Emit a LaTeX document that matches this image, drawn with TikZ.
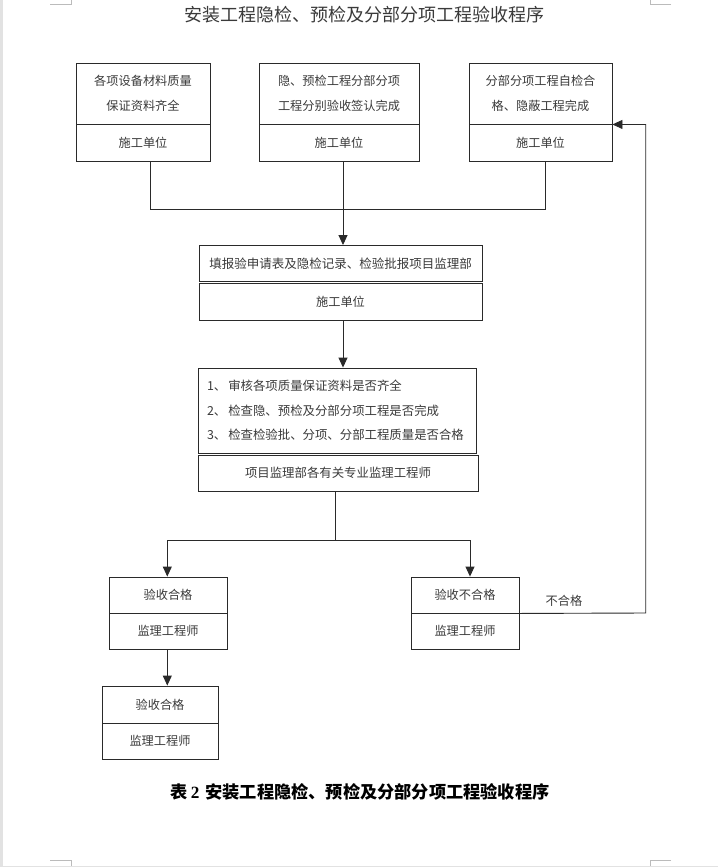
\documentclass[tikz,border=0pt]{standalone}
\usepackage{fontspec}
\setmainfont{Noto Sans CJK SC}
\newfontfamily\numfont{Liberation Serif}
\usetikzlibrary{arrows.meta}
\definecolor{linec}{HTML}{2A2A2A}
\definecolor{txtc}{HTML}{3A3A3A}
\definecolor{markc}{HTML}{BBBBBB}
\definecolor{stripc}{HTML}{E2E2E2}
\tikzset{
  box/.style={draw=linec, line width=0.9pt, rectangle, inner sep=0pt, align=center,
    text=txtc, font=\fontsize{12.2}{25.5}\selectfont},
  conn/.style={draw=linec, line width=0.9pt},
  arr/.style={conn, -{Triangle[width=9pt,length=10pt]}},
  cornermark/.style={draw=markc, line width=0.6pt}
}
\begin{document}
\begin{tikzpicture}[x=1pt,y=-1pt]
\useasboundingbox (0,0) rectangle (718,867);
\fill[white] (0,0) rectangle (718,867);
\fill[stripc] (0,0) rectangle (3,867);
\fill[stripc] (0,865.5) rectangle (718,867);
% corner marks
\draw[cornermark] (50,4) -- (71,4) -- (71,0);
\draw[cornermark] (671,4) -- (650,4) -- (650,0);
\draw[cornermark] (50,860.5) -- (71,860.5) -- (71,866);
\draw[cornermark] (671,860.5) -- (650,860.5) -- (650,866);

% title
\node[text=txtc, font=\fontsize{18}{20}\selectfont] (title) at (364,15) {安装工程隐检、预检及分部分项工程验收程序};

% top row
\node[box, minimum width=134, minimum height=61] (b1t) at (143,93.5) {各项设备材料质量\\保证资料齐全};
\node[box, minimum width=134, minimum height=37] (b1b) at (143,142.5) {施工单位};
\node[box, minimum width=160, minimum height=61] (b2t) at (339,93.5) {隐、预检工程分部分项\\工程分别验收签认完成};
\node[box, minimum width=160, minimum height=37] (b2b) at (339,142.5) {施工单位};
\node[box, minimum width=143, minimum height=61] (b3t) at (540.5,93.5) {分部分项工程自检合\\格、隐蔽工程完成};
\node[box, minimum width=143, minimum height=37] (b3b) at (540.5,142.5) {施工单位};

% second
\node[box, minimum width=283, minimum height=36, font=\fontsize{12.5}{15}\selectfont] (b4t) at (340.5,263.5) {填报验申请表及隐检记录、检验批报项目监理部};
\node[box, minimum width=283, minimum height=37] (b4b) at (340.5,301.5) {施工单位};

% third
\node[box, minimum width=278, minimum height=85, text width=260, align=left,
  font=\fontsize{12.4}{24.5}\selectfont] (b5) at (337,410.5)
  {1、\hspace{2pt}审核各项质量保证资料是否齐全\\2、\hspace{2pt}检查隐、预检及分部分项工程是否完成\\3、\hspace{2pt}检查检验批、分项、分部工程质量是否合格};
\node[box, minimum width=280, minimum height=36, font=\fontsize{12.4}{15}\selectfont] (b6) at (338,473) {项目监理部各有关专业监理工程师};

% results
\node[box, minimum width=118, minimum height=36] (b7t) at (168,595) {验收合格};
\node[box, minimum width=118, minimum height=36] (b7b) at (168,631) {监理工程师};
\node[box, minimum width=108, minimum height=36] (b9t) at (465,595) {验收不合格};
\node[box, minimum width=108, minimum height=36] (b9b) at (465,631) {监理工程师};
\node[box, minimum width=116, minimum height=37] (b8t) at (160,704.5) {验收合格};
\node[box, minimum width=116, minimum height=36] (b8b) at (160,741) {监理工程师};

% connectors
\coordinate (j1) at (343,209);
\draw[conn] ([xshift=7.7]b1b.south) |- (j1);
\draw[conn] ([xshift=4.5]b3b.south) |- (j1);
\draw[arr] (b2b.south -| j1) -- (b4t.north -| j1);
\draw[arr] (b4b.south -| j1) -- (b5.north -| j1);
\coordinate (j2) at (335.7,540);
\draw[conn] (b6.south -| j2) -- (j2);
\draw[arr] (j2) -| ([xshift=-0.7]b7t.north);
\draw[arr] (j2) -| ([xshift=5]b9t.north);
\draw[arr] ([xshift=-0.7]b7b.south) -- ([xshift=-0.7]b7b.south |- b8t.north);
\coordinate (fb) at (645.7,613);
\draw[arr] (b9t.south east) -- (fb) |- (b3t.south east);
\node[text=txtc, font=\fontsize{12.2}{15}\selectfont] (ng) at (564,600.7) {不合格};

% caption
\node[text=black, font=\bfseries\fontsize{17.2}{20}\selectfont] (cap) at (360.2,792) {表\,{\numfont\bfseries 2}\hspace{6pt}安装工程隐检、预检及分部分项工程验收程序};
\end{tikzpicture}
\end{document}
